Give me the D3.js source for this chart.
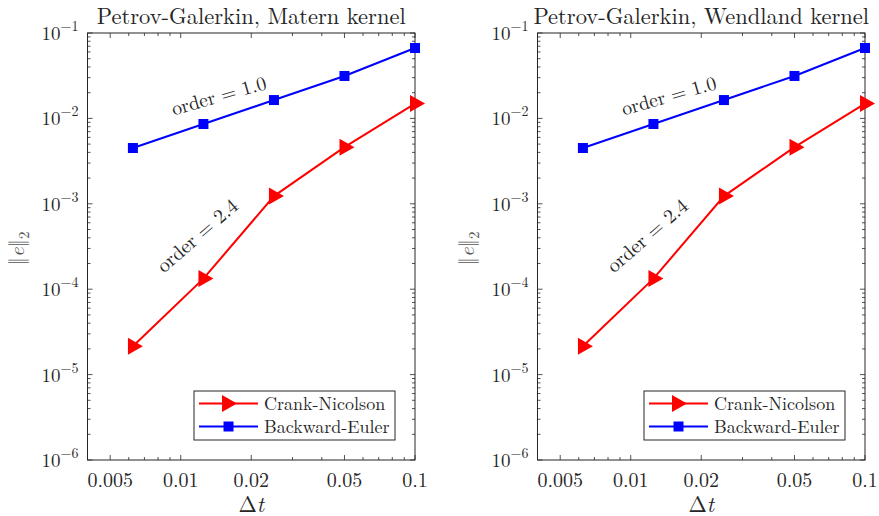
<!DOCTYPE html>
<html>
<head>
<meta charset="utf-8">
<script src="https://cdn.jsdelivr.net/npm/d3@7"></script>
<style>
  body { margin: 0; background: #fff; }
</style>
</head>
<body>
<svg id="chart" width="879" height="516"></svg>
<script>
// time steps (shared by both panels)
const dt = [0.00625, 0.0125, 0.025, 0.05, 0.1];

// Matern kernel errors
const maternCN = [2.15e-5, 1.33e-4, 1.23e-3, 4.6e-3, 1.49e-2];
const maternBE = [4.5e-3, 8.6e-3, 1.64e-2, 3.14e-2, 6.67e-2];

// Wendland kernel errors
const wendCN = [2.15e-5, 1.33e-4, 1.23e-3, 4.6e-3, 1.49e-2];
const wendBE = [4.5e-3, 8.6e-3, 1.64e-2, 3.14e-2, 6.67e-2];

const titles = ['Petrov-Galerkin, Matern kernel', 'Petrov-Galerkin, Wendland kernel'];
const xTicks = [0.005, 0.01, 0.02, 0.05, 0.1];
const xTickLabels = ['0.005', '0.01', '0.02', '0.05', '0.1'];
const yTicks = [1e-6, 1e-5, 1e-4, 1e-3, 1e-2, 1e-1];
const yExp = ['\u22126', '\u22125', '\u22124', '\u22123', '\u22122', '\u22121'];
const seriesNames = ['Crank-Nicolson', 'Backward-Euler'];
const orderLabels = ['order = 2.4', 'order = 1.0'];

const svg = d3.select('#chart');
const axisCol = '#262626';
const serif = "'Latin Modern Roman', 'Liberation Serif', serif";

drawPanel(87.5, titles[0], maternCN, maternBE);
drawPanel(537.5, titles[1], wendCN, wendBE);

function triPath() { return 'M-5,-8.5L10,0L-5,8.5Z'; }

function txt(sel, size) {
    return sel.append('text').style('font-family', serif).style('font-size', size + 'px').attr('fill', axisCol);
}

function drawPanel(ox, title, cn, be) {
    const W = 327.5, H = 427;
    const g = svg.append('g').attr('transform', 'translate(' + ox + ',33)');

    const x = d3.scaleLog().domain([0.004, 0.1]).range([0, W]);
    const y = d3.scaleLog().domain([1e-6, 1e-1]).range([H, 0]);

    // minor ticks
    let xMinor = [];
    [0.001, 0.01].forEach(function(dec) {
        for (let k = 2; k <= 9; k++) {
            let v = +(k * dec).toPrecision(3);
            if (v >= 0.004 && v <= 0.1 && xTicks.indexOf(v) < 0) xMinor.push(v);
        }
    });
    let yMinor = [];
    for (let e = -6; e < -1; e++) {
        for (let k = 2; k <= 9; k++) yMinor.push(k * Math.pow(10, e));
    }

    const ticks = g.append('g').attr('stroke', axisCol).attr('stroke-width', 0.8);
    xTicks.forEach(function(v) {
        let px = x(v);
        ticks.append('line').attr('x1', px).attr('x2', px).attr('y1', H).attr('y2', H - 5);
        ticks.append('line').attr('x1', px).attr('x2', px).attr('y1', 0).attr('y2', 5);
    });
    xMinor.forEach(function(v) {
        let px = x(v);
        ticks.append('line').attr('x1', px).attr('x2', px).attr('y1', H).attr('y2', H - 3);
        ticks.append('line').attr('x1', px).attr('x2', px).attr('y1', 0).attr('y2', 3);
    });
    yTicks.forEach(function(v) {
        let py = y(v);
        ticks.append('line').attr('x1', 0).attr('x2', 5).attr('y1', py).attr('y2', py);
        ticks.append('line').attr('x1', W).attr('x2', W - 5).attr('y1', py).attr('y2', py);
    });
    yMinor.forEach(function(v) {
        let py = y(v);
        ticks.append('line').attr('x1', 0).attr('x2', 3).attr('y1', py).attr('y2', py);
        ticks.append('line').attr('x1', W).attr('x2', W - 3).attr('y1', py).attr('y2', py);
    });

    // box
    g.append('rect').attr('x', 0).attr('y', 0).attr('width', W).attr('height', H)
        .attr('fill', 'none').attr('stroke', axisCol).attr('stroke-width', 1);

    // tick labels
    xTicks.forEach(function(v, i) {
        txt(g, 20).attr('x', x(v)).attr('y', H + 27)
            .attr('text-anchor', 'middle').text(xTickLabels[i]);
    });
    yTicks.forEach(function(v, i) {
        let t = txt(g, 19).attr('x', -9).attr('y', y(v) + 7).attr('text-anchor', 'end');
        t.append('tspan').text('10');
        t.append('tspan').attr('dy', -9).style('font-size', '14px').text(yExp[i]);
    });

    // title and axis labels
    txt(g, 22.5).attr('x', W / 2).attr('y', -9).attr('text-anchor', 'middle').text(title);

    let xl = txt(g, 22).attr('x', W / 2).attr('y', H + 52).attr('text-anchor', 'middle');
    xl.append('tspan').text('\u0394');
    xl.append('tspan').style('font-style', 'italic').text('t');

    let yl = txt(g, 21).attr('transform', 'translate(-64,' + (H / 2 + 2) + ') rotate(-90)')
        .attr('text-anchor', 'middle').attr('fill', '#555');
    yl.append('tspan').text('\u2016');
    yl.append('tspan').style('font-style', 'italic').text('e');
    yl.append('tspan').text('\u2016');
    yl.append('tspan').attr('dy', 5).style('font-size', '15px').text('2');

    const line = d3.line().x(function(d, i) { return x(dt[i]); }).y(function(d) { return y(d); });

    // Backward-Euler (blue)
    g.append('path').datum(be).attr('d', line).attr('fill', 'none')
        .attr('stroke', '#0000ff').attr('stroke-width', 2);
    g.selectAll('.sq').data(be).enter().append('rect')
        .attr('x', function(d, i) { return x(dt[i]) - 5; })
        .attr('y', function(d) { return y(d) - 5; })
        .attr('width', 10).attr('height', 10).attr('fill', '#0000ff');

    // Crank-Nicolson (red)
    g.append('path').datum(cn).attr('d', line).attr('fill', 'none')
        .attr('stroke', '#ff0000').attr('stroke-width', 2);
    g.selectAll('.tri').data(cn).enter().append('path')
        .attr('d', triPath())
        .attr('transform', function(d, i) { return 'translate(' + x(dt[i]) + ',' + y(d) + ')'; })
        .attr('fill', '#ff0000');

    // order annotations
    txt(g, 19.5).attr('transform', 'translate(' + (x(0.0148)) + ',' + (y(0.0155)) + ') rotate(-16)')
        .attr('text-anchor', 'middle').text(orderLabels[1]);
    txt(g, 20).attr('transform', 'translate(' + (x(0.0123)) + ',' + (y(3.7e-4)) + ') rotate(-41)')
        .attr('text-anchor', 'middle').text(orderLabels[0]);

    // legend
    const lg = g.append('g').attr('transform', 'translate(' + (W - 221) + ',' + (H - 69) + ')');
    lg.append('rect').attr('x', 0).attr('y', 0).attr('width', 201).attr('height', 49)
        .attr('fill', '#fff').attr('stroke', axisCol).attr('stroke-width', 1);
    [0, 1].forEach(function(i) {
        let ly = 12.5 + i * 23;
        lg.append('line').attr('x1', 5).attr('x2', 64).attr('y1', ly).attr('y2', ly)
            .attr('stroke', i == 0 ? '#ff0000' : '#0000ff').attr('stroke-width', 2);
        if (i == 0) {
            lg.append('path').attr('d', triPath()).attr('transform', 'translate(33,' + ly + ')').attr('fill', '#ff0000');
        } else {
            lg.append('rect').attr('x', 29.5).attr('y', ly - 5).attr('width', 10).attr('height', 10).attr('fill', '#0000ff');
        }
        txt(lg, 18).attr('x', 70).attr('y', ly + 6).text(seriesNames[i]);
    });
}
</script>
</body>
</html>
